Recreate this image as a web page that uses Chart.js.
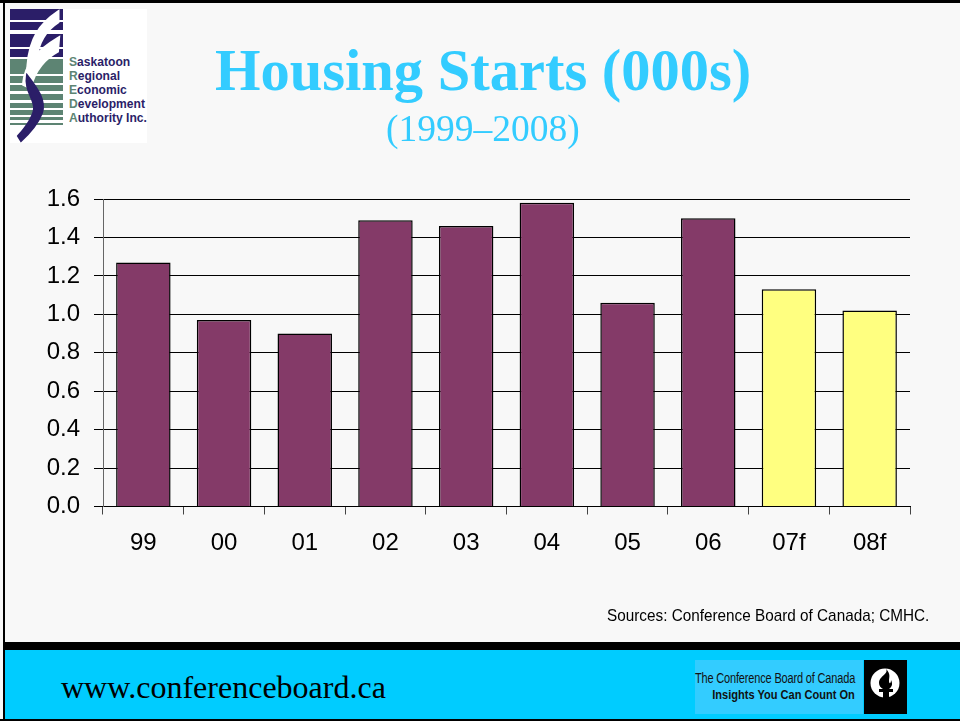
<!DOCTYPE html>
<html><head><meta charset="utf-8">
<script src="https://cdn.jsdelivr.net/npm/chart.js@4"></script>
<style>
html,body{margin:0;padding:0;background:#f8f8f8;overflow:hidden}
#stage{position:relative;width:960px;height:721px;background:#f8f8f8;overflow:hidden}
#stage>*{position:absolute}
canvas{left:0;top:0}
.t{white-space:nowrap;line-height:1}
</style></head><body>
<div id="stage">
<canvas id="c" width="960" height="721"></canvas>
<div style="left:0;top:0;width:960px;height:3px;background:#000"></div>
<div style="left:3px;top:0;width:2px;height:721px;background:#000"></div>
<div style="left:5px;top:650px;width:955px;height:69px;background:#00ccff"></div>
<div style="left:5px;top:642px;width:955px;height:8px;background:#000"></div>
<div style="left:0;top:719px;width:960px;height:2px;background:#000"></div>

<svg style="left:10px;top:9px" width="137" height="134" viewBox="0 0 137 134">
<rect width="137" height="134" fill="#fff"/>
<g fill="#2b1e68"><rect y="0" width="53" height="11"/><rect y="13" width="53" height="8"/><rect y="25" width="53" height="13"/><rect y="40" width="53" height="8"/></g>
<g fill="#5d8473"><rect y="50" width="53" height="15"/><rect y="67" width="53" height="7"/><rect y="76" width="53" height="6"/><rect y="85" width="53" height="6"/><rect y="94" width="53" height="5"/><rect y="101" width="53" height="5"/><rect y="108" width="53" height="3"/><rect y="114" width="53" height="2"/></g>
<path d="M18 56C20 30 30 15 48 3V13C34 22 28 34 26 50C22 52 20 54 18 56Z" fill="#fff" stroke="#fff" stroke-width="3"/>
<path d="M14 75C16 55 28 42 48 30L47 42C36 48 24 60 20 78Z" fill="#fff" stroke="#fff" stroke-width="4"/>
<path d="M17 66C28 80 36 92 32 104C28 114 20 124 11 132L8 127C16 118 23 108 24 100C25 90 14 82 17 66Z" fill="#2b1e68" stroke="#2b1e68" stroke-width="2"/>
<g font-family="Liberation Sans" font-weight="700" font-size="12.1" fill="#2b1e68">
<text x="59" y="57"><tspan fill="#5d8473">S</tspan>askatoon</text>
<text x="59" y="71"><tspan fill="#5d8473">R</tspan>egional</text>
<text x="59" y="85"><tspan fill="#5d8473">E</tspan>conomic</text>
<text x="59" y="99"><tspan fill="#5d8473">D</tspan>evelopment</text>
<text x="59" y="113"><tspan fill="#5d8473">A</tspan>uthority Inc.</text>
</g></svg>

<div class="t" style="left:215px;top:37px;font:700 58.5px 'Liberation Serif';color:#33ccff">Housing Starts (000s)</div>
<div class="t" style="left:386px;top:107px;font:37.5px 'Liberation Serif';color:#33ccff">(1999–2008)</div>
<div class="t" style="left:607px;top:606px;font:17px 'Liberation Sans';transform:scaleX(.9);transform-origin:left;color:#000">Sources: Conference Board of Canada; CMHC.</div>
<div class="t" style="left:61px;top:669px;font:32px 'Liberation Serif';color:#000">www.conferenceboard.ca</div>

<div style="left:695px;top:660px;width:168px;height:54px;background:#33ccff"></div>
<div class="t" style="right:105px;top:670px;font:14px 'Liberation Sans';letter-spacing:-.2px;transform:scaleX(.785);transform-origin:right;color:#111">The Conference Board of Canada</div>
<div class="t" style="right:105px;top:687px;font:700 13px 'Liberation Sans';transform:scaleX(.85);transform-origin:right;color:#111">Insights You Can Count On</div>
<svg style="left:864px;top:660px" width="43" height="54" viewBox="0 0 43 54">
<rect width="43" height="54" fill="#000"/><circle cx="21" cy="23" r="14.5" fill="#fff"/>
<path d="M22 9C25 14 15 16 15 23C15 26 17 28 19 29H25C28 27 29 24 27 20C27 24 25 24 25 21C25 17 27 14 22 9Z" fill="#000"/>
<rect x="15" y="29" width="14" height="3" fill="#000"/><rect x="19" y="32" width="6" height="8" fill="#000"/>
</svg>
</div>
<script>
const categories = ["99","00","01","02","03","04","05","06","07f","08f"];
const starts = [1.27,0.97,0.90,1.49,1.46,1.58,1.06,1.50,1.13,1.02];
const yTicks = [0,0.2,0.4,0.6,0.8,1.0,1.2,1.4,1.6];
const actualColor = "#843a68", forecastColor = "#ffff80";
const barColors = categories.map(c => c.endsWith("f") ? forecastColor : actualColor);

Chart.defaults.animation = false;
new Chart(document.getElementById("c"), {
  type: "bar",
  data: { labels: categories, datasets: [{ data: starts, backgroundColor: barColors, borderColor: "#000", borderWidth: 1.5, barPercentage: 0.675, categoryPercentage: 1 }] },
  options: {
    responsive: false,
    layout: { padding: { left: 30, right: 50, top: 199, bottom: 0 } },
    plugins: { legend: { display: false }, tooltip: { enabled: false } },
    scales: {
      x: {
        afterFit: s => { s.height = 214.5; },
        border: { color: "#000", width: 1 },
        grid: { offset: true, drawOnChartArea: false, drawTicks: true, tickLength: 8, tickColor: "#444" },
        ticks: { color: "#000", padding: 14, maxRotation: 0, font: { family: "Liberation Sans", size: 24 } }
      },
      y: {
        min: 0, max: 1.6,
        afterFit: s => { s.width = 73; },
        afterBuildTicks: s => { s.ticks = yTicks.map(v => ({ value: v })); },
        border: { color: "#666", width: 1 },
        grid: { color: "#000", lineWidth: 1, tickLength: 9, tickColor: "#000" },
        ticks: { color: "#000", padding: 14, font: { family: "Liberation Sans", size: 24 }, callback: v => Number(v).toFixed(1) }
      }
    }
  }
});
</script>
</body></html>
